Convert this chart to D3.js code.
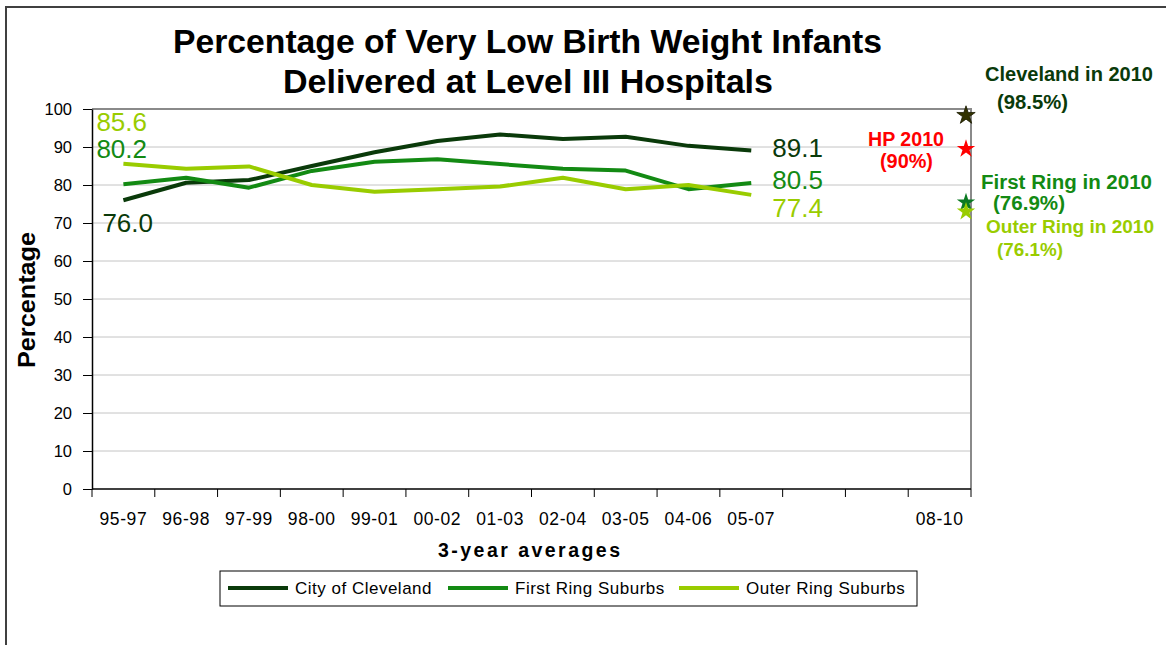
<!DOCTYPE html>
<html>
<head>
<meta charset="utf-8">
<script src="https://cdn.jsdelivr.net/npm/d3@7"></script>
<style>
  body { margin: 0; background: #fff; }
  text { font-family: "Liberation Sans", Arial, sans-serif; }
</style>
</head>
<body>
<svg id="chart" width="1166" height="645"></svg>
<script>
// categories on the x axis (two empty slots before 08-10)
var categories = ["95-97", "96-98", "97-99", "98-00", "99-01", "00-02", "01-03", "02-04", "03-05", "04-06", "05-07", "", "", "08-10"];

// 3-year averages, percent
var cleveland = [76.0, 80.6, 81.3, 85.0, 88.6, 91.6, 93.3, 92.1, 92.7, 90.3, 89.1];
var firstRing = [80.2, 81.9, 79.3, 83.7, 86.1, 86.8, 85.5, 84.3, 83.8, 78.9, 80.5];
var outerRing = [85.6, 84.3, 84.9, 80.0, 78.2, 78.9, 79.6, 81.9, 78.9, 80.0, 77.4];

var seriesNames = ["City of Cleveland", "First Ring Suburbs", "Outer Ring Suburbs"];
var seriesColors = ["#0a3a0a", "#138a13", "#99cc00"];

var yTicks = [0, 10, 20, 30, 40, 50, 60, 70, 80, 90, 100];

// 2010 stars (level where the star is drawn) and their captions
var targetLevels = [98.3, 89.5, 75.4, 73.0];
var targetTitles = ["Cleveland in 2010", "HP 2010", "First Ring in 2010", "Outer Ring in 2010"];
var targetValues = ["(98.5%)", "(90%)", "(76.9%)", "(76.1%)"];
var targetColors = ["#333300", "#ff0000", "#0b7a22", "#99cc00"];

var svg = d3.select("#chart");
var margin = { top: 109, right: 195, bottom: 156, left: 92 };
var W = 1166, H = 645;
var plotW = W - margin.left - margin.right;   // 879
var plotH = H - margin.top - margin.bottom;   // 380

// outer frame
svg.append("rect")
    .attr("x", 6).attr("y", 7)
    .attr("width", 1200).attr("height", 700)
    .attr("fill", "none").attr("stroke", "#404040").attr("stroke-width", 2);

var x = d3.scaleBand().domain(d3.range(categories.length))
    .range([margin.left, margin.left + plotW]);
var y = d3.scaleLinear().domain([0, 100])
    .range([margin.top + plotH, margin.top]);

// grid
svg.append("g").selectAll("line")
    .data(yTicks.filter(function (d) { return d > 0 && d < 100; }))
    .enter().append("line")
    .attr("x1", margin.left).attr("x2", margin.left + plotW)
    .attr("y1", function (d) { return y(d); }).attr("y2", function (d) { return y(d); })
    .attr("stroke", "#c4c4c4").attr("stroke-width", 1);

// plot border (top, right)
svg.append("path")
    .attr("d", "M" + margin.left + "," + y(100) + "H" + (margin.left + plotW) + "V" + y(0))
    .attr("fill", "none").attr("stroke", "#8a8a8a").attr("stroke-width", 2);

// y axis
var yAxis = d3.axisLeft(y).tickValues(yTicks).tickSize(9).tickPadding(11).tickSizeOuter(0);
var gy = svg.append("g").attr("transform", "translate(" + margin.left + ",0)").call(yAxis);
gy.select(".domain").attr("stroke", "#000").attr("stroke-width", 1.5);
gy.selectAll(".tick line").attr("stroke", "#000");
gy.selectAll("text").attr("font-size", 16.5).attr("fill", "#000")
    .style("font-family", "'Liberation Sans', Arial, sans-serif");

// x axis
var x0 = y(0);
svg.append("line")
    .attr("x1", margin.left).attr("x2", margin.left + plotW)
    .attr("y1", x0).attr("y2", x0)
    .attr("stroke", "#000").attr("stroke-width", 1.5);
var edges = d3.range(categories.length).map(function (i) { return x(i); }).concat([x.range()[1]]);
svg.append("g").selectAll("line").data(edges).enter().append("line")
    .attr("x1", function (d) { return d; }).attr("x2", function (d) { return d; })
    .attr("y1", x0).attr("y2", x0 + 8)
    .attr("stroke", "#000");
svg.append("g").selectAll("text").data(categories).enter().append("text")
    .attr("x", function (d, i) { return x(i) + x.bandwidth() / 2; })
    .attr("y", 525)
    .attr("text-anchor", "middle")
    .attr("font-size", 17.5)
    .attr("letter-spacing", 0.6)
    .text(function (d) { return d; });

// lines
var series = [cleveland, firstRing, outerRing];
var line = d3.line()
    .x(function (d, i) { return x(i) + x.bandwidth() / 2; })
    .y(function (d) { return y(d); });
svg.append("g").selectAll("path").data(series).enter().append("path")
    .attr("d", line)
    .attr("fill", "none")
    .attr("stroke", function (d, i) { return seriesColors[i]; })
    .attr("stroke-width", 4)
    .attr("stroke-linejoin", "round");

// first / last value labels  (dx, dy offsets from the point)
var startOffsets = [[-21, 32], [-27, -26], [-27, -33]];
var endOffsets = [[21, 7], [21, 6], [21, 22]];
var fmt = d3.format(".1f");
series.forEach(function (s, i) {
    var n = s.length - 1;
    svg.append("text")
        .attr("x", x(0) + x.bandwidth() / 2 + startOffsets[i][0])
        .attr("y", y(s[0]) + startOffsets[i][1])
        .attr("font-size", 26).attr("fill", seriesColors[i])
        .text(fmt(s[0]));
    svg.append("text")
        .attr("x", x(n) + x.bandwidth() / 2 + endOffsets[i][0])
        .attr("y", y(s[n]) + endOffsets[i][1])
        .attr("font-size", 26).attr("fill", seriesColors[i])
        .text(fmt(s[n]));
});

// 2010 stars
var starX = x.range()[1] - 5;
svg.append("g").selectAll("path").data(targetLevels).enter().append("path")
    .attr("d", d3.symbol().type(d3.symbolStar).size(105))
    .attr("transform", function (d) { return "translate(" + starX + "," + y(d) + ")"; })
    .attr("fill", function (d, i) { return targetColors[i]; })
    .attr("stroke", function (d, i) { return i === 0 ? "#1a1a00" : "none"; })
    .attr("stroke-width", 0.8);

// captions for the stars: [x, titleBaseline, titleWidth, valueX, valueBaseline, valueWidth, fontSize]
var captionPos = [
    [985, 81, 168, 997, 109, 71, 20],
    [868, 146, 76, 880, 168, 53, 19.5],
    [981, 189, 171, 993, 210, 72, 20],
    [986, 233, 168, 997, 256, 66, 19]
];
var capColors = ["#0a3a0a", "#ff0000", "#138a13", "#99cc00"];
targetTitles.forEach(function (t, i) {
    var p = captionPos[i];
    svg.append("text").attr("x", p[0]).attr("y", p[1])
        .attr("font-size", p[6]).attr("font-weight", "bold").attr("fill", capColors[i])
        .attr("textLength", p[2]).attr("lengthAdjust", "spacingAndGlyphs")
        .text(t);
    svg.append("text").attr("x", p[3]).attr("y", p[4])
        .attr("font-size", p[6]).attr("font-weight", "bold").attr("fill", capColors[i])
        .attr("textLength", p[5]).attr("lengthAdjust", "spacingAndGlyphs")
        .text(targetValues[i]);
});

// title
svg.append("text").attr("x", 173).attr("y", 53)
    .attr("font-size", 32.5).attr("font-weight", "bold")
    .attr("textLength", 709).attr("lengthAdjust", "spacingAndGlyphs")
    .text("Percentage of Very Low Birth Weight Infants");
svg.append("text").attr("x", 283).attr("y", 93)
    .attr("font-size", 32.5).attr("font-weight", "bold")
    .attr("textLength", 490).attr("lengthAdjust", "spacingAndGlyphs")
    .text("Delivered at Level III Hospitals");

// axis titles
svg.append("text").attr("x", 438).attr("y", 557)
    .attr("font-size", 19.5).attr("font-weight", "bold")
    .attr("textLength", 182).attr("lengthAdjust", "spacing")
    .text("3-year averages");
svg.append("text")
    .attr("transform", "translate(35,368) rotate(-90)")
    .attr("font-size", 23).attr("font-weight", "bold")
    .attr("textLength", 136).attr("lengthAdjust", "spacingAndGlyphs")
    .text("Percentage");

// legend
var lg = svg.append("g");
lg.append("rect").attr("x", 220).attr("y", 571).attr("width", 697).attr("height", 35)
    .attr("fill", "#fff").attr("stroke", "#000").attr("stroke-width", 1);
var legendX = [228, 448, 679];
seriesNames.forEach(function (name, i) {
    lg.append("line")
        .attr("x1", legendX[i]).attr("x2", legendX[i] + 60)
        .attr("y1", 588).attr("y2", 588)
        .attr("stroke", seriesColors[i]).attr("stroke-width", 4);
    lg.append("text").attr("x", legendX[i] + 67).attr("y", 594)
        .attr("font-size", 17).attr("letter-spacing", 0.5)
        .text(name);
});
</script>
</body>
</html>
